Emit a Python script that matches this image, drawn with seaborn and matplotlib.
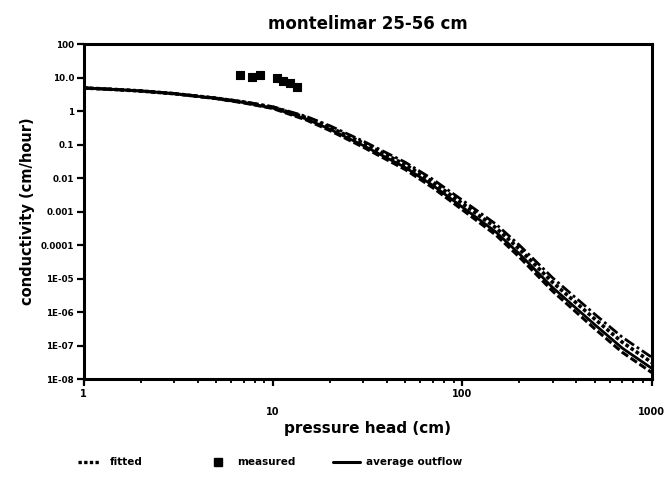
import numpy as np
import pandas as pd
import seaborn as sns
import matplotlib
matplotlib.use("Agg")
import matplotlib.pyplot as plt
from matplotlib.lines import Line2D
from matplotlib.ticker import FixedLocator, LogLocator, NullFormatter

# pressure head (cm) at which the conductivity curves are tabulated
head = [1, 1.5, 2, 3, 5, 7, 10, 15, 20, 30, 50, 70, 100, 150, 200, 300, 500, 700, 1000]

# conductivity (cm/hour) curves
dashdot_curve = [4.90, 4.37, 3.98, 3.31, 2.45, 1.91, 1.35, 0.69, 0.363, 0.126, 0.0295,
                 9.1e-3, 2.19e-3, 4.27e-4, 1.0e-4, 1.05e-5, 8.7e-7, 1.78e-7, 4.5e-8]
fitted_upper = [4.90, 4.37, 3.98, 3.31, 2.42, 1.85, 1.29, 0.637, 0.325, 0.110, 0.025,
                7.5e-3, 1.75e-3, 3.33e-4, 7.6e-5, 7.7e-6, 6.25e-7, 1.26e-7, 3.16e-8]
average_outflow = [4.90, 4.37, 3.98, 3.31, 2.38, 1.79, 1.23, 0.578, 0.286, 0.0933, 0.0206,
                   6.0e-3, 1.36e-3, 2.49e-4, 5.5e-5, 5.4e-6, 4.25e-7, 8.4e-8, 2.11e-8]
fitted_lower = [4.90, 4.37, 3.98, 3.31, 2.36, 1.75, 1.19, 0.54, 0.261, 0.0832, 0.0179,
                5.1e-3, 1.13e-3, 2.02e-4, 4.4e-5, 4.2e-6, 3.2e-7, 6.3e-8, 1.58e-8]

# measured points
meas_head = [6.7, 7.7, 8.5, 10.5, 11.3, 12.3, 13.3]
meas_k = [11.9, 10.3, 11.9, 9.7, 7.9, 6.8, 5.2]

ytick_vals = [1e2, 1e1, 1, 1e-1, 1e-2, 1e-3, 1e-4, 1e-5, 1e-6, 1e-7, 1e-8]
ytick_labels = ["100", "10.0", "1", "0.1", "0.01", "0.001", "0.0001",
                "1E-05", "1E-06", "1E-07", "1E-08"]
xtick_vals = [1, 10, 100, 1000]
xtick_labels = ["1", "10", "100", "1000"]
legend_labels = ["fitted", "measured", "average outflow"]

sns.set_theme(style="white")
plt.rcParams["font.family"] = ["DejaVu Sans"]
plt.rcParams["font.weight"] = "bold"
for key in ("text.color", "axes.labelcolor", "xtick.color", "ytick.color",
            "axes.edgecolor"):
    plt.rcParams[key] = "black"

fig = plt.figure(figsize=(6.65, 4.95), dpi=100)
ax = fig.add_axes([0.126, 0.234, 0.854, 0.677])

df = pd.DataFrame({"head": head, "dd": dashdot_curve, "up": fitted_upper,
                   "avg": average_outflow, "lo": fitted_lower})

dotted = (0, (1.0, 0.7))
sns.lineplot(data=df, x="head", y="dd", ax=ax, color="black", lw=2.0,
             linestyle=(0, (4, 1.2, 1, 1.2)))
sns.lineplot(data=df, x="head", y="up", ax=ax, color="black", lw=2.6,
             linestyle=dotted)
sns.lineplot(data=df, x="head", y="avg", ax=ax, color="black", lw=2.0)
sns.lineplot(data=df, x="head", y="lo", ax=ax, color="black", lw=2.2,
             linestyle=(0, (2.5, 1)))
sns.scatterplot(x=meas_head, y=meas_k, ax=ax, marker="s", color="black",
                s=40, edgecolor="black", linewidth=0.8)

ax.set_xscale("log")
ax.set_yscale("log")
ax.set_xlim(1, 1000)
ax.set_ylim(1e-8, 100)

ax.yaxis.set_major_locator(FixedLocator(ytick_vals))
ax.set_yticklabels(ytick_labels, fontsize=6.3, fontweight="bold", color="black")
ax.yaxis.set_minor_locator(LogLocator(base=10, subs=np.arange(2, 10)))
ax.yaxis.set_minor_formatter(NullFormatter())

ax.xaxis.set_major_locator(FixedLocator(xtick_vals))
ax.set_xticklabels(xtick_labels, fontsize=7, fontweight="bold", color="black")
ax.xaxis.set_minor_locator(LogLocator(base=10, subs=np.arange(2, 10)))
ax.xaxis.set_minor_formatter(NullFormatter())

ax.tick_params(axis="both", which="major", direction="out", length=5, width=1.6,
               color="black", bottom=True, left=True, top=False, right=False, pad=2)
ax.tick_params(axis="both", which="minor", direction="out", length=3, width=1.3,
               color="black", bottom=True, left=True, top=False, right=False)
# alternate the x tick labels between two rows
for i, t in enumerate(ax.xaxis.get_major_ticks()):
    t.set_pad(2 if i % 2 == 0 else 15)

for sp in ax.spines.values():
    sp.set_color("black")
    sp.set_linewidth(2.2)

ax.set_xlabel("pressure head (cm)", fontsize=11, fontweight="bold", labelpad=3,
              color="black")
ax.set_ylabel("conductivity (cm/hour)", fontsize=10.5, fontweight="bold", labelpad=4,
              color="black")
ax.set_title("montelimar 25-56 cm", fontsize=12, fontweight="bold", pad=11,
             color="black")
ax.grid(False)

# legend row beneath the axes
ly = 0.066
fig.add_artist(Line2D([0.117, 0.150], [ly, ly], transform=fig.transFigure,
                      color="black", lw=2.4, linestyle=dotted))
fig.text(0.165, ly, legend_labels[0], fontsize=7.5, fontweight="bold", va="center",
         color="black")
fig.add_artist(Line2D([0.328], [ly], transform=fig.transFigure, color="black",
                      marker="s", markersize=6, linestyle="none"))
fig.text(0.356, ly, legend_labels[1], fontsize=7.5, fontweight="bold", va="center",
         color="black")
fig.add_artist(Line2D([0.501, 0.541], [ly, ly], transform=fig.transFigure,
                      color="black", lw=2.2))
fig.text(0.550, ly, legend_labels[2], fontsize=7.5, fontweight="bold", va="center",
         color="black")

fig.savefig("out.png", dpi=100)
